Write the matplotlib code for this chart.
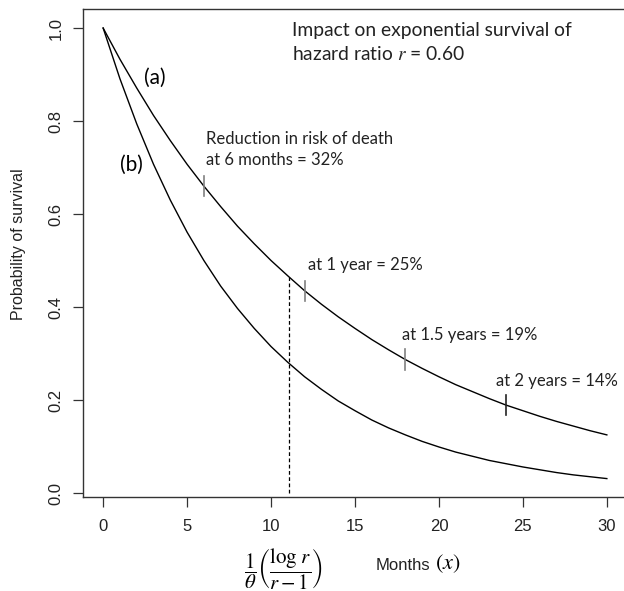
"""Exponential survival curves under a hazard ratio of 0.60."""

import matplotlib

matplotlib.use("Agg")
import matplotlib.pyplot as plt

# survival, one value per month (0..30)
months = list(range(31))
surv_a = [
    1.000, 0.933, 0.871, 0.812, 0.758, 0.707, 0.660, 0.616, 0.574, 0.536,
    0.500, 0.467, 0.435, 0.406, 0.379, 0.354, 0.330, 0.308, 0.287, 0.268,
    0.250, 0.233, 0.218, 0.203, 0.189, 0.177, 0.165, 0.154, 0.144, 0.134,
    0.125,
]
surv_b = [
    1.000, 0.891, 0.794, 0.707, 0.630, 0.561, 0.500, 0.445, 0.397, 0.354,
    0.315, 0.281, 0.250, 0.223, 0.198, 0.177, 0.157, 0.140, 0.125, 0.111,
    0.099, 0.088, 0.079, 0.070, 0.063, 0.056, 0.050, 0.044, 0.039, 0.035,
    0.031,
]

# reductions in risk of death marked on curve (a)
mark_months = [6, 12, 18, 24]
mark_surv = [0.660, 0.435, 0.287, 0.189]
mark_labels = [
    "Reduction in risk of death\nat 6 months = 32%",
    "at 1 year = 25%",
    "at 1.5 years = 19%",
    "at 2 years = 14%",
]
mark_text_xy = [(6.1, 0.738), (12.2, 0.49), (17.8, 0.34), (23.4, 0.24)]
mark_colors = ["#808080", "#808080", "#808080", "#222222"]

median_x = 11.06
median_y = 0.465
xticks = [0, 5, 10, 15, 20, 25, 30]
yticks = [0.0, 0.2, 0.4, 0.6, 0.8, 1.0]

plt.rcParams["mathtext.fontset"] = "stix"
sans = ["Liberation Sans", "DejaVu Sans"]
note = ["Lato", "DejaVu Sans"]

W, H = 624, 591
fig = plt.figure(figsize=(W / 100, H / 100), dpi=100)
ax = fig.add_axes([83 / W, (H - 497) / H, (627 - 83) / W, (497 - 9) / H])

ax.plot(months, surv_a, color="black", linewidth=1.0)
ax.plot(months, surv_b, color="black", linewidth=1.0)
ax.plot([median_x, median_x], [0, median_y], color="black",
        linestyle=(0, (3, 2)), linewidth=0.9)

for mx, my, col in zip(mark_months, mark_surv, mark_colors):
    ax.plot([mx, mx], [my - 0.022, my + 0.022], color=col, linewidth=1.2)
for (tx, ty), lab in zip(mark_text_xy, mark_labels):
    ax.text(tx, ty, lab, family=note, fontsize=12, ha="left", va="center",
            linespacing=1.4, color="#222222")

ax.text(3.05, 0.892, "(a)", family=note, fontsize=15, ha="center", va="center")
ax.text(1.7, 0.705, "(b)", family=note, fontsize=15, ha="center", va="center")
ax.text(11.25, 0.968, "Impact on exponential survival of\nhazard ratio $r$ = 0.60",
        family=note, fontsize=13.9, ha="left", va="center", linespacing=1.4,
        color="#222222")

ax.set_xlim(-1.2, 31.2)
ax.set_ylim(-0.0086, 1.041)
ax.set_xticks(xticks)
ax.set_xticklabels([str(t) for t in xticks], family=sans, fontsize=12,
                   color="#222222")
ax.set_yticks(yticks)
ax.set_yticklabels([f"{t:.1f}" for t in yticks], family=sans, fontsize=12,
                   color="#222222", rotation=90, va="center")
ax.tick_params(axis="both", length=7, width=0.9, color="#333333", pad=9)
ax.tick_params(axis="y", pad=7)
for side in ["left", "top", "bottom", "right"]:
    ax.spines[side].set_color("#333333")
    ax.spines[side].set_linewidth(1.0)

fig.text(19 / W, 1 - 244 / H, "Probability of survival", family=sans,
         fontsize=11.5, rotation=90, ha="center", va="center", color="#222222")
fig.text(283 / W, 1 - 569 / H,
         r"$\dfrac{1}{\theta}\left(\dfrac{\log\,r}{r-1}\right)$",
         fontsize=15, ha="center", va="center")
fig.text(376 / W, 1 - 565 / H, "Months", family=sans, fontsize=12,
         ha="left", va="center", color="#222222")
fig.text(435 / W, 1 - 564 / H, r"$(x)$", fontsize=16, ha="left",
         va="center")

fig.savefig("out.png", dpi=100)
